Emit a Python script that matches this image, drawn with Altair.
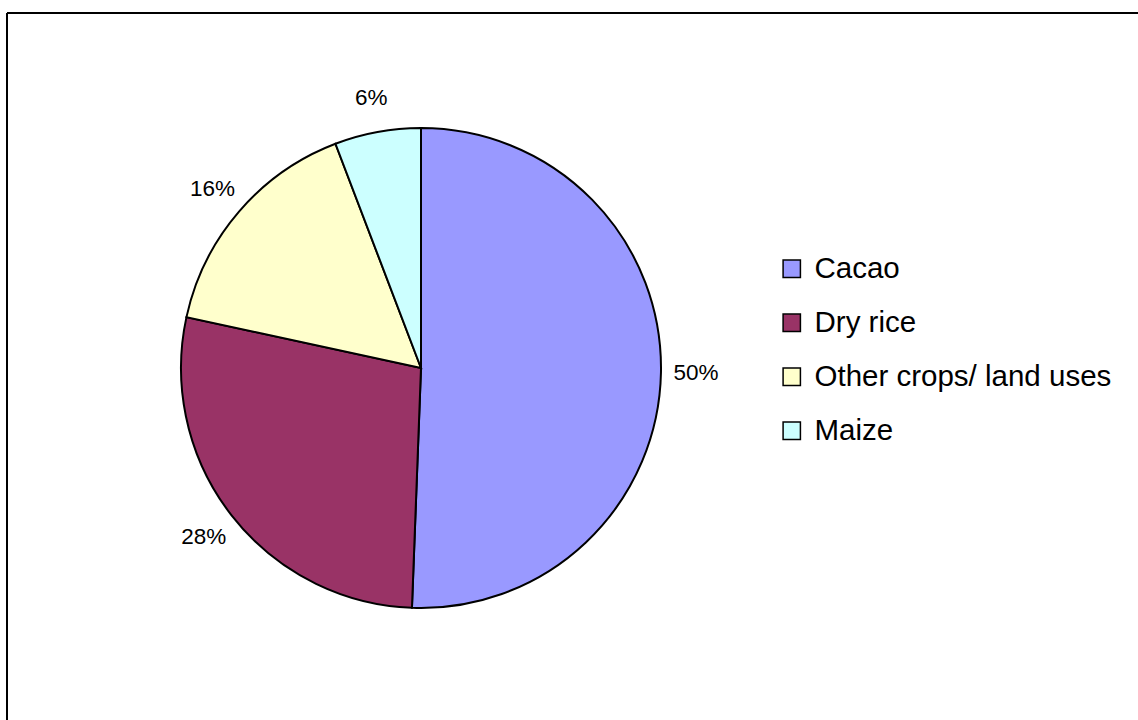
import altair as alt
import pandas as pd

categories = ["Cacao", "Dry rice", "Other crops/ land uses", "Maize"]
shares = [50.6, 27.8, 15.8, 5.8]
pct_labels = ["50%", "28%", "16%", "6%"]
colors = ["#9999FF", "#993366", "#FFFFCC", "#CCFFFF"]

df = pd.DataFrame({
    "crop": categories,
    "share": shares,
    "label": pct_labels,
    "idx": list(range(len(categories))),
})

FONT = "Arial, Liberation Sans, sans-serif"
CX, CY, R = 421, 368, 240

color = alt.Color(
    "crop:N",
    scale=alt.Scale(domain=categories, range=colors),
    sort=categories,
    legend=alt.Legend(
        title=None,
        orient="none",
        legendX=777,
        legendY=254,
        symbolType="square",
        symbolSize=300,
        symbolStrokeColor="black",
        symbolStrokeWidth=1.5,
        labelFont=FONT,
        labelFontSize=29.5,
        labelColor="black",
        labelLimit=600,
        rowPadding=23,
        labelOffset=8,
        padding=0,
    ),
)

base = alt.Chart(df)

pie = base.mark_arc(outerRadius=R, stroke="black", strokeWidth=2).encode(
    theta=alt.Theta("share:Q", stack=True),
    color=color,
    order=alt.Order("idx:Q"),
    x=alt.value(CX),
    y=alt.value(CY),
)

labels = base.mark_text(
    radius=275, font=FONT, fontSize=22.5, color="black", align="center", baseline="middle"
).encode(
    theta=alt.Theta("share:Q", stack=True),
    order=alt.Order("idx:Q"),
    text="label:N",
    x=alt.value(CX),
    y=alt.value(CY),
)

frame_top = base.mark_rule(color="black", strokeWidth=2).encode(
    x=alt.value(7), x2=alt.value(1140), y=alt.value(13)
)
frame_left = base.mark_rule(color="black", strokeWidth=2).encode(
    x=alt.value(7), y=alt.value(13), y2=alt.value(722)
)

chart = alt.layer(pie, labels, frame_top, frame_left).properties(
    width=1138,
    height=720,
    padding=0,
    autosize=alt.AutoSizeParams(type="none"),
    background="white",
).configure_view(stroke=None)

chart.save("out.html", embed_options={"renderer": "svg", "actions": False})
